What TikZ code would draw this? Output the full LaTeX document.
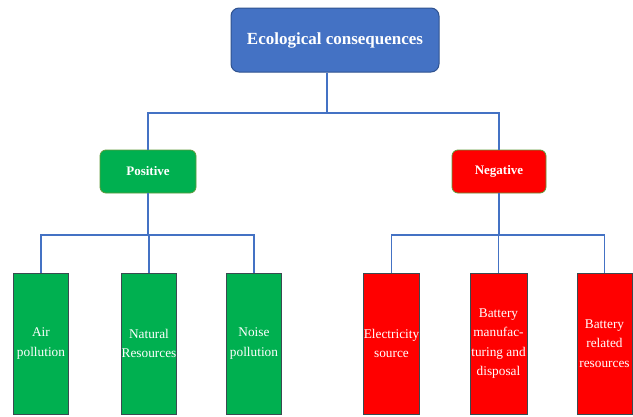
\documentclass[tikz,border=0pt]{standalone}
\usepackage{fontspec}
\setmainfont{Liberation Serif}
\definecolor{tblue}{HTML}{4472C4}
\definecolor{tblueb}{HTML}{2F528F}
\definecolor{tgreen}{HTML}{00B050}
\definecolor{tred}{HTML}{FF0000}
\definecolor{lineblue}{HTML}{4472C4}
\definecolor{leafedge}{HTML}{3A4A50}
\definecolor{midedge}{HTML}{5E9A3A}
\tikzset{
  topbox/.style={draw=tblueb, line width=1pt, fill=tblue, rounded corners=8pt,
    minimum width=208pt, minimum height=64pt, text=white,
    font=\fontsize{17}{20}\selectfont\bfseries, inner sep=0pt},
  midbox/.style={draw=midedge, line width=0.8pt, rounded corners=6pt,
    minimum height=43pt, text=white,
    font=\fontsize{13}{15}\selectfont\bfseries, inner sep=0pt},
  leafbox/.style={draw=leafedge, line width=0.8pt, minimum width=55pt,
    minimum height=141pt, text=white, align=center, inner sep=0pt,
    font=\fontsize{13.3}{19.5}\selectfont},
  conn/.style={draw=lineblue, line width=1.3pt},
}
\begin{document}
\begin{tikzpicture}[x=1pt,y=-1pt]
\useasboundingbox (0,0) rectangle (633,416);
\node[topbox] (title) at (335,40) {Ecological consequences};
\node[midbox, fill=tgreen, minimum width=96pt] (pos) at (148,171.5) {Positive};
\node[midbox, fill=tred, minimum width=94pt] (neg) at (499,171.5) {Negative};
\node[leafbox, fill=tgreen] (air) at (41,343.5) {Air\\pollution};
\node[leafbox, fill=tgreen] (nat) at (149,343.5) {Natural\\Resources};
\node[leafbox, fill=tgreen] (noise) at (254,343.5) {Noise\\pollution};
\node[leafbox, fill=tred] (elec) at (391.5,343.5) {Electricity\\source};
\node[leafbox, fill=tred, minimum width=57pt] (batm) at (498.5,343.5) {Battery\\manufac-\\turing and\\disposal};
\node[leafbox, fill=tred] (batr) at (604.5,343.5) {Battery\\related\\resources};
\coordinate (tb) at (327,113);
\coordinate (pb) at (148,235);
\coordinate (nb) at (499,235);
\draw[conn] (title.south -| tb) -- (tb);
\draw[conn] (pos.north) |- (tb) -| (neg.north);
\draw[conn] (pos.south) -- (pb);
\draw[conn] (air.north) |- (pb) -| (noise.north);
\draw[conn] (nat.north) -- (nat.north |- pb);
\draw[conn] (neg.south) -- (nb);
\draw[conn] (elec.north) |- (nb) -| (batr.north);
\draw[conn] (batm.north) -- (batm.north |- nb);
\end{tikzpicture}
\end{document}
